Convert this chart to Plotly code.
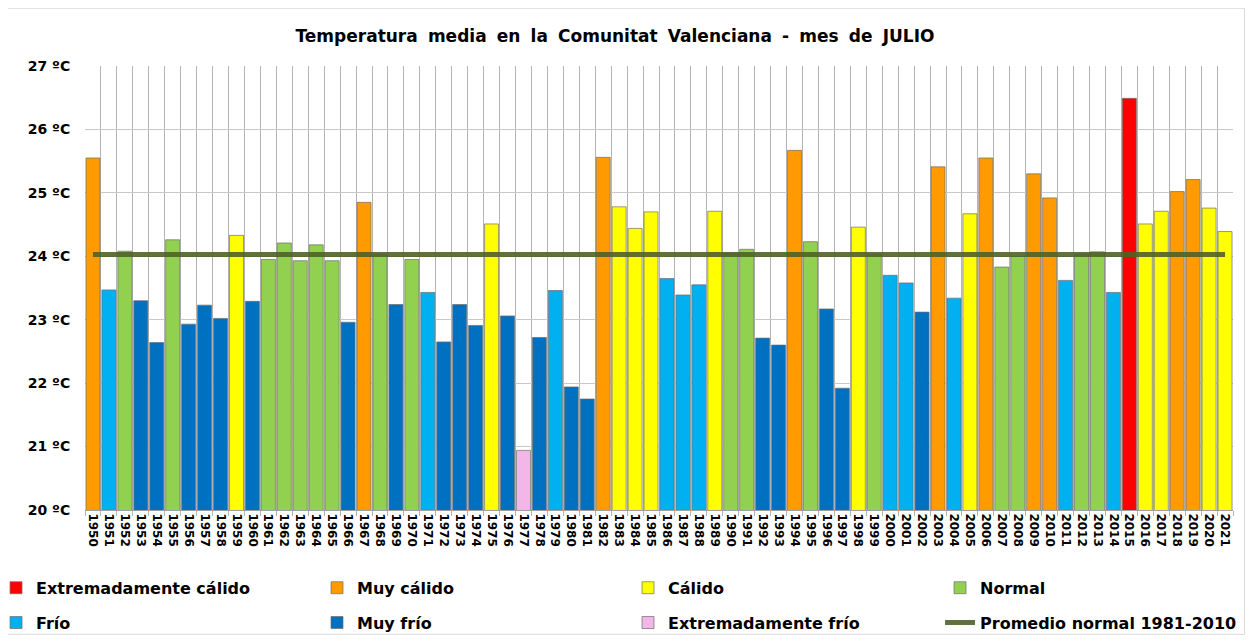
import plotly.graph_objects as go

years = [str(y) for y in range(1950, 2022)]
temps = [25.55, 23.47, 24.08, 23.30, 22.64, 24.26, 22.93, 23.23, 23.02, 24.33,
         23.29, 23.95, 24.21, 23.93, 24.18, 23.93, 22.96, 24.85, 24.03, 23.24,
         23.95, 23.43, 22.65, 23.24, 22.91, 24.51, 23.06, 20.94, 22.72, 23.46,
         21.94, 21.75, 25.56, 24.78, 24.44, 24.70, 23.65, 23.39, 23.55, 24.71,
         24.05, 24.11, 22.71, 22.60, 25.67, 24.23, 23.17, 21.92, 24.46, 24.03,
         23.70, 23.58, 23.12, 25.41, 23.34, 24.67, 25.55, 23.83, 24.00, 25.30,
         24.92, 23.62, 24.03, 24.07, 23.43, 26.49, 24.51, 24.71, 25.02, 25.21,
         24.76, 24.39]
classes = ["MC", "F", "N", "MF", "MF", "N", "MF", "MF", "MF", "C",
           "MF", "N", "N", "N", "N", "N", "MF", "MC", "N", "MF",
           "N", "F", "MF", "MF", "MF", "C", "MF", "EF", "MF", "F",
           "MF", "MF", "MC", "C", "C", "C", "F", "F", "F", "C",
           "N", "N", "MF", "MF", "MC", "N", "MF", "MF", "C", "N",
           "F", "F", "MF", "MC", "F", "C", "MC", "N", "N", "MC",
           "MC", "F", "N", "N", "F", "EC", "C", "C", "MC", "MC",
           "C", "C"]
class_codes = ["EC", "MC", "C", "N", "F", "MF", "EF"]
class_names = ["Extremadamente cálido", "Muy cálido", "Cálido", "Normal",
               "Frío", "Muy frío", "Extremadamente frío"]
class_colors = ["#FF0000", "#FF9B00", "#FFFF00", "#92D050",
                "#00B0F0", "#0070C0", "#F2B6E8"]
average_normal = 24.03
average_name = "Promedio normal 1981-2010"
title_text = "Temperatura media en la Comunitat Valenciana - mes de JULIO"

FONT = "DejaVu Sans"
legend_ids = ["legend", "legend2", "legend3", "legend4"]

fig = go.Figure()
for i, (code, name, color) in enumerate(zip(class_codes, class_names, class_colors)):
    xs = [y for y, c in zip(years, classes) if c == code]
    ys = [t for t, c in zip(temps, classes) if c == code]
    fig.add_trace(go.Bar(
        x=xs, y=ys, name=name,
        marker=dict(color=color, line=dict(color="rgba(110,110,110,0.7)", width=1)),
        legend=legend_ids[i % 4], legendgroup=name,
    ))

fig.add_trace(go.Scatter(
    x=years, y=[average_normal] * len(years), mode="lines", name=average_name,
    line=dict(color="#4F6228", width=5), opacity=0.9,
    legend=legend_ids[3], legendgroup=average_name,
))

legend_common = dict(
    orientation="v", xanchor="left", yanchor="top", y=-0.137,
    tracegroupgap=11,
    font=dict(family=FONT, size=16, color="#000000", weight="bold"),
    bgcolor="rgba(0,0,0,0)", itemclick=False, itemdoubleclick=False,
)

W, H = 1245, 633  # page body adds an 8 px offset in the 1253x641 window
fig.update_layout(
    width=W, height=H,
    paper_bgcolor="white", plot_bgcolor="white",
    margin=dict(l=77, r=20, t=58, b=131, autoexpand=False),
    barmode="overlay", bargap=0.12,
    title=dict(text=title_text.replace(" ", " \u2005"),
               x=607 / W, xanchor="center", y=1 - 28 / H, yanchor="middle",
               font=dict(family=FONT, size=17, color="#000000", weight="bold")),
    legend=dict(x=-0.0775, **legend_common),
    legend2=dict(x=0.2021, **legend_common),
    legend3=dict(x=0.473, **legend_common),
    legend4=dict(x=0.7448, **legend_common),
    xaxis=dict(
        type="category", categoryorder="array", categoryarray=years,
        tickson="boundaries", showgrid=True, gridcolor="#B4B4B4", gridwidth=1,
        tickangle=90, ticks="outside", ticklen=5, tickcolor="#B4B4B4",
        showline=True, linecolor="#A0A0A0",
        tickfont=dict(family=FONT, size=12, color="#000000", weight="bold"),
    ),
    yaxis=dict(
        range=[20, 27], dtick=1, ticksuffix=" ºC",
        showgrid=True, gridcolor="#C8C8C8", gridwidth=1,
        zeroline=False, showline=False,
        ticks="outside", ticklen=11, tickcolor="rgba(0,0,0,0)",
        tickfont=dict(family=FONT, size=14, color="#000000", weight="bold"),
    ),
    shapes=[dict(type="rect", xref="paper", yref="paper",
                 x0=-0.068, x1=1.01, y0=-0.28, y1=1.13,
                 line=dict(color="#D9D9D9", width=1), layer="below")],
)

fig.write_html("out.html")
